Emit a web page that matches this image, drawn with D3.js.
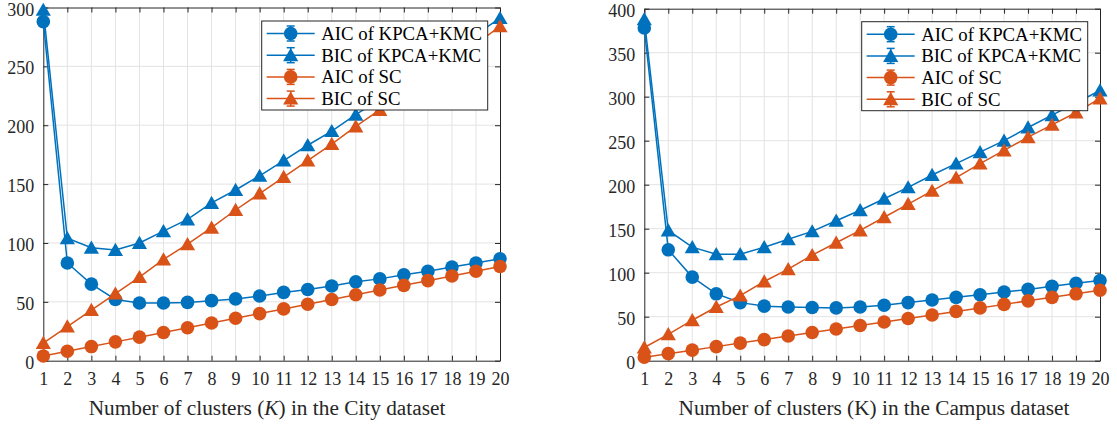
<!DOCTYPE html>
<html>
<head>
<meta charset="utf-8">
<script src="https://cdn.jsdelivr.net/npm/d3@7"></script>
<style>
  body { margin: 0; background: #fff; }
  #container svg { display: block; }
  #container svg text { font-family: "Liberation Serif", "Times New Roman", serif; }
</style>
</head>
<body>
<div id="container"></div>
<script>
const clusters = [1, 2, 3, 4, 5, 6, 7, 8, 9, 10, 11, 12, 13, 14, 15, 16, 17, 18, 19, 20];

// City dataset
const cityAicKpca = [288, 83, 65, 52, 49, 49, 49.5, 51, 52.5, 55, 58, 60.5, 63.5, 67, 69.5, 73, 76, 79.5, 83, 86.5];
const cityBicKpca = [298, 104, 96, 94, 100, 110, 120, 134, 145, 157, 170, 183, 195, 209, 222, 235, 249, 263, 277, 291];
const cityAicSc = [4, 8, 12, 16, 20, 24, 28, 32, 36, 40, 44, 48, 52, 56, 60, 64, 68, 72, 76, 80];
const cityBicSc = [15, 29, 43, 57, 71, 86, 99, 113, 128, 142, 156, 170, 184, 199, 213, 227, 241, 255, 269, 284];
const cityYTicks = [0, 50, 100, 150, 200, 250, 300];

// Campus dataset
const campusAicKpca = [378, 126, 95, 76, 66, 62, 61, 60.5, 60, 61, 63, 66, 69, 72, 75, 78, 81, 84.5, 88, 91];
const campusBicKpca = [388, 148, 129, 121, 121, 129, 138, 147, 159, 171, 184, 197, 211, 224, 237, 250, 265, 279, 293, 307];
const campusAicSc = [4, 8, 12, 16, 20, 24, 28, 32, 36, 40, 44, 48, 52, 56, 60, 64, 68, 72, 76, 80];
const campusBicSc = [15, 30, 46, 61, 74, 90, 104, 120, 134, 148, 163, 178, 193, 208, 224, 239, 254, 268, 282, 298];
const campusYTicks = [0, 50, 100, 150, 200, 250, 300, 350, 400];

const seriesNames = ["AIC of KPCA+KMC", "BIC of KPCA+KMC", "AIC of SC", "BIC of SC"];
const seriesColors = ["#0072BD", "#0072BD", "#D95319", "#D95319"];
const seriesMarkers = ["circle", "triangle", "circle", "triangle"];

const serif = "Liberation Serif, Times New Roman, serif";

const svg = d3.select("#container").append("svg")
    .attr("width", 1117)
    .attr("height", 426);

function marker(g, type, color) {
    if (type === "circle") {
        g.append("circle").attr("r", 6.8).attr("fill", color);
    } else {
        g.append("path").attr("d", "M0,-7.2L7.6,6L-7.6,6Z").attr("fill", color);
    }
}

function drawPanel(series, {
    left, right, top, bottom,
    yMax, yTicks,
    titleParts, titleX,
    legendX, legendY,
  } = {}) {

    const x = d3.scaleLinear().domain([1, 20]).range([left, right]);
    const y = d3.scaleLinear().domain([0, yMax]).range([bottom, top]);

    const g = svg.append("g");

    // grid
    g.append("g").selectAll("line").data(clusters.slice(1, -1)).enter().append("line")
        .attr("x1", d => x(d)).attr("x2", d => x(d))
        .attr("y1", top).attr("y2", bottom)
        .attr("stroke", "#e3e3e3").attr("stroke-width", 1);
    g.append("g").selectAll("line").data(yTicks.slice(1, -1)).enter().append("line")
        .attr("x1", left).attr("x2", right)
        .attr("y1", d => y(d)).attr("y2", d => y(d))
        .attr("stroke", "#e3e3e3").attr("stroke-width", 1);

    // axes (box, inward ticks)
    const axisColor = "#262626";
    const xBottom = g.append("g").attr("transform", `translate(0,${bottom})`)
        .call(d3.axisBottom(x).tickValues(clusters).tickSizeInner(-5).tickSizeOuter(0).tickPadding(12));
    const xTop = g.append("g").attr("transform", `translate(0,${top})`)
        .call(d3.axisTop(x).tickValues(clusters).tickSizeInner(-5).tickSizeOuter(0).tickFormat(""));
    const yLeft = g.append("g").attr("transform", `translate(${left},0)`)
        .call(d3.axisLeft(y).tickValues(yTicks).tickSizeInner(-5).tickSizeOuter(0).tickPadding(9));
    const yRight = g.append("g").attr("transform", `translate(${right},0)`)
        .call(d3.axisRight(y).tickValues(yTicks).tickSizeInner(-5).tickSizeOuter(0).tickFormat(""));
    [xBottom, xTop, yLeft, yRight].forEach(a => {
        a.attr("font-family", serif).attr("font-size", 18);
        a.select(".domain").attr("stroke", axisColor).attr("stroke-width", 1);
        a.selectAll(".tick line").attr("stroke", axisColor);
        a.selectAll(".tick text").attr("fill", axisColor);
    });
    yLeft.selectAll(".tick text").attr("dy", "0.42em");

    // x-axis title
    const title = g.append("text")
        .attr("x", titleX)
        .attr("y", 415)
        .attr("text-anchor", "middle")
        .attr("fill", axisColor)
        .attr("font-family", serif)
        .attr("font-size", 21.3);
    titleParts.forEach(p => {
        title.append("tspan").text(p.text).style("font-style", p.italic ? "italic" : "normal");
    });

    // series
    const line = d3.line().x((d, i) => x(clusters[i])).y(d => y(d));
    series.forEach((values, s) => {
        const sg = g.append("g");
        sg.append("path")
            .datum(values)
            .attr("d", line)
            .attr("fill", "none")
            .attr("stroke", seriesColors[s])
            .attr("stroke-width", 1.5);
        sg.selectAll("g").data(values).enter().append("g")
            .attr("transform", (d, i) => `translate(${x(clusters[i])},${y(d)})`)
            .each(function() { marker(d3.select(this), seriesMarkers[s], seriesColors[s]); });
    });

    // legend
    const lw = 226, lh = 89, rowH = 21.7;
    const legend = g.append("g").attr("transform", `translate(${legendX},${legendY})`);
    legend.append("rect")
        .attr("width", lw).attr("height", lh)
        .attr("fill", "#fff").attr("stroke", axisColor).attr("stroke-width", 1);
    seriesNames.forEach((name, s) => {
        const row = legend.append("g").attr("transform", `translate(0,${12.5 + s * rowH})`);
        row.append("line").attr("x1", 5).attr("x2", 53)
            .attr("stroke", seriesColors[s]).attr("stroke-width", 1.5);
        row.append("line").attr("x1", 29).attr("x2", 29).attr("y1", -7.5).attr("y2", 7.5)
            .attr("stroke", seriesColors[s]).attr("stroke-width", 1.5);
        row.append("line").attr("x1", 25).attr("x2", 33).attr("y1", -7.5).attr("y2", -7.5)
            .attr("stroke", seriesColors[s]).attr("stroke-width", 1.5);
        row.append("line").attr("x1", 25).attr("x2", 33).attr("y1", 7.5).attr("y2", 7.5)
            .attr("stroke", seriesColors[s]).attr("stroke-width", 1.5);
        const m = row.append("g").attr("transform", "translate(29,0)");
        marker(m, seriesMarkers[s], seriesColors[s]);
        row.append("text").attr("x", 59.5).attr("y", 6.5)
            .attr("fill", "#000")
            .attr("font-family", serif)
            .attr("font-size", 18.8)
            .text(name);
    });
}

drawPanel([cityAicKpca, cityBicKpca, cityAicSc, cityBicSc], {
    left: 43.3, right: 500, top: 7.5, bottom: 360.7,
    yMax: 300, yTicks: cityYTicks,
    titleParts: [{text: "Number of clusters ("}, {text: "K", italic: true}, {text: ") in the City dataset"}],
    titleX: 267,
    legendX: 261.7, legendY: 21
});

drawPanel([campusAicKpca, campusBicKpca, campusAicSc, campusBicSc], {
    left: 644.3, right: 1100, top: 8.7, bottom: 360.7,
    yMax: 400, yTicks: campusYTicks,
    titleParts: [{text: "Number of clusters (K) in the Campus dataset"}],
    titleX: 874,
    legendX: 861.7, legendY: 21.7
});
</script>
</body>
</html>
